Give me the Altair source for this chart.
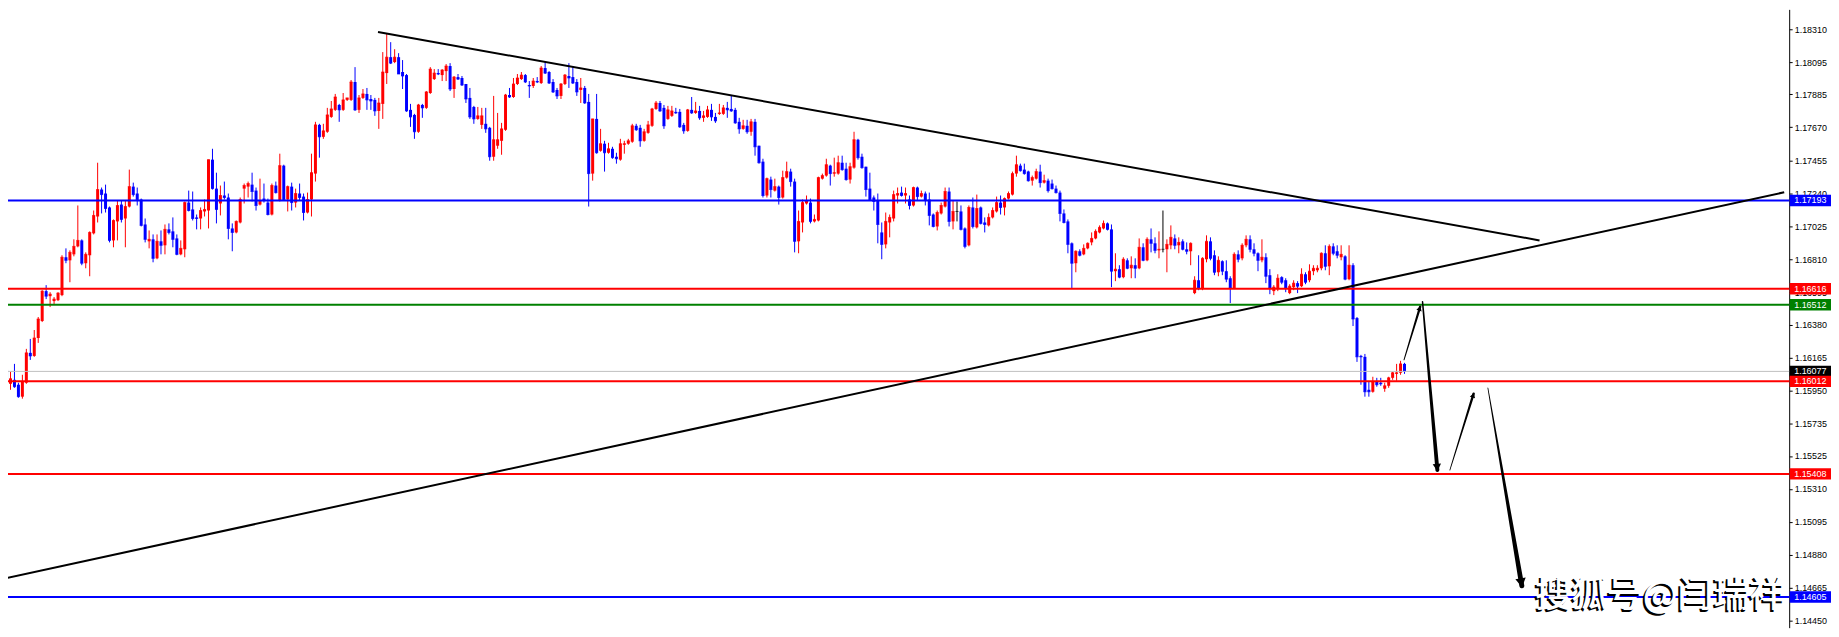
import math
import altair as alt
import pandas as pd

# ---------------- candle data (prices in points, 1 point = 0.00001) ----------------
POINT = 1e-5
O_PTS = [
116087,115996,116022,115990,115912,116003,116198,116178,116295,116406,116601,116568,116536,116542,116575,116822,116802,116841,116893,116932,
116783,116835,116978,117088,117264,117238,117147,116932,117056,117166,117075,117153,117283,117238,117199,117036,116926,116939,116815,116926,
116900,117004,116991,116945,116841,116874,117179,117134,117082,117075,117121,117127,117459,117270,117173,117225,117212,117010,116984,117049,
117270,117283,117296,117257,117166,117205,117179,117101,117290,117192,117420,117199,117283,117179,117238,117218,117114,117199,117368,117686,
117608,117641,117738,117784,117816,117784,117849,117849,117966,117784,117862,117888,117855,117849,117777,117823,118024,118128,118096,118128,
118031,118011,117784,117751,117641,117816,117797,117894,117985,118024,118011,118037,118070,117920,117998,117992,117953,117862,117803,117725,
117686,117693,117667,117478,117550,117582,117654,117881,117868,117953,117985,118011,117946,117940,117972,117959,118057,118031,117966,117914,
117875,117953,118005,117998,117966,117914,117927,117836,117368,117725,117517,117563,117504,117530,117478,117459,117556,117563,117576,117680,
117667,117582,117634,117680,117790,117829,117797,117725,117745,117771,117771,117686,117647,117784,117764,117777,117732,117738,117784,117738,
117758,117758,117797,117790,117784,117706,117660,117680,117641,117706,117550,117446,117225,117329,117257,117283,117212,117342,117381,117316,
116926,117049,117173,117179,117056,117062,117335,117355,117420,117368,117368,117439,117400,117329,117407,117589,117478,117413,117270,117212,
117192,116984,116906,117049,117075,117225,117244,117225,117199,117160,117277,117218,117238,117199,117101,117023,117108,117153,117251,117056,
117121,117121,117010,116900,117147,117017,117147,117049,117030,117082,117121,117179,117147,117205,117231,117368,117420,117394,117381,117322,
117335,117381,117309,117322,117303,117270,117244,117108,117056,116913,116783,116861,116841,116880,116919,116945,116984,117010,117043,117004,
116731,116744,116692,116802,116750,116770,116750,116887,116802,116939,116913,116867,116874,116874,116900,116945,116900,116926,116874,116861,
116588,116672,116620,116809,116926,116835,116724,116796,116731,116685,116620,116841,116815,116900,116939,116874,116848,116802,116822,116705,
116601,116614,116692,116672,116588,116627,116653,116633,116711,116672,116731,116737,116750,116848,116763,116893,116861,116822,116828,116679,
116770,116425,116178,116172,115957,115944,116009,116003,115964,115983,116035,116061,116068,116126]
H_PTS = [
116107,116074,116126,116003,116055,116224,116289,116347,116432,116607,116640,116594,116562,116594,116835,116880,116867,116939,117160,116939,
116854,116991,117127,117439,117277,117296,117153,117069,117192,117192,117192,117394,117309,117277,117205,117075,116997,116971,116971,116997,
117036,117043,117082,116971,116932,117186,117257,117251,117101,117147,117199,117459,117530,117374,117290,117316,117238,117043,117062,117212,
117303,117316,117374,117277,117335,117303,117205,117303,117316,117498,117426,117290,117309,117270,117303,117238,117244,117498,117706,117693,
117693,117797,117842,117888,117823,117894,117862,117979,118063,117881,117920,117927,117881,117862,117862,118161,118284,118226,118180,118154,
118109,118018,117823,117758,117823,117823,117907,118063,118050,118050,118050,118083,118089,118005,118018,118005,117953,117927,117810,117803,
117797,117797,117673,117875,117764,117699,117888,117927,117992,118018,118031,118018,117972,117992,117998,118070,118096,118037,117985,117927,
117959,118018,118089,118070,117985,117992,117940,117888,117725,117888,117660,117582,117569,117543,117504,117595,117582,117595,117693,117693,
117686,117660,117712,117797,117842,117842,117816,117810,117810,117797,117790,117699,117790,117868,117836,117810,117777,117810,117823,117764,
117823,117816,117836,117881,117797,117732,117719,117719,117725,117725,117550,117465,117342,117348,117335,117290,117387,117446,117400,117335,
117127,117199,117225,117205,117101,117348,117368,117465,117426,117472,117485,117485,117439,117439,117641,117595,117498,117413,117374,117225,
117238,117049,117114,117101,117257,117277,117283,117277,117225,117283,117283,117257,117251,117244,117108,117127,117179,117277,117277,117192,
117186,117160,117017,117160,117212,117231,117153,117082,117108,117147,117218,117225,117212,117251,117381,117485,117433,117433,117387,117355,
117400,117426,117361,117335,117329,117290,117257,117134,117069,116919,116867,116874,116906,116919,116984,117004,117030,117062,117049,117036,
116848,116770,116822,116815,116828,116815,116945,116913,116952,117010,116952,116991,117127,116939,117030,116971,116952,116939,116919,116919,
116698,116835,116822,116965,116952,116867,116828,116802,116802,116698,116854,116867,116913,116965,116965,116913,116854,116939,116848,116744,
116640,116711,116698,116685,116646,116672,116666,116750,116724,116776,116770,116770,116854,116900,116906,116913,116900,116900,116835,116900,
116783,116432,116185,116191,116009,116042,116035,116035,116003,116042,116074,116126,116146,116133]
L_PTS = [
115996,115957,115970,115905,115899,115996,116152,116172,116263,116399,116549,116497,116510,116536,116568,116783,116659,116828,116887,116770,
116750,116698,116971,117049,117108,117114,116919,116887,116932,117049,116887,117147,117218,117160,117023,116919,116880,116789,116809,116841,
116841,116971,116887,116835,116835,116822,117121,117062,117004,117004,117088,117010,117264,117043,117095,117199,116939,116861,116978,117043,
117173,117212,117186,117127,117160,117179,117095,117095,117238,117186,117192,117121,117127,117147,117192,117062,117108,117088,117316,117472,
117595,117634,117732,117777,117706,117777,117842,117842,117777,117764,117855,117784,117784,117745,117660,117725,117953,118083,118089,118018,
117920,117771,117673,117595,117634,117732,117790,117888,117979,118011,117972,117972,117907,117862,117979,117940,117829,117725,117693,117719,
117660,117634,117452,117452,117530,117491,117647,117862,117862,117946,117979,117959,117862,117927,117959,117953,118018,117953,117894,117855,
117855,117946,117927,117953,117875,117829,117823,117153,117322,117498,117511,117381,117498,117465,117433,117452,117498,117556,117569,117647,
117543,117576,117628,117673,117784,117771,117660,117719,117738,117758,117667,117628,117641,117758,117758,117719,117706,117732,117712,117699,
117751,117751,117732,117771,117693,117628,117654,117628,117615,117485,117433,117212,117212,117212,117251,117166,117205,117335,117283,116854,
116848,116984,117166,117043,117049,117056,117329,117348,117290,117348,117361,117387,117322,117303,117400,117459,117400,117218,117192,117127,
116913,116809,116880,116952,117056,117173,117218,117173,117134,117153,117192,117212,117160,117030,117017,116997,117101,117147,117023,117004,
117056,116997,116880,116893,117010,117010,117036,116984,117023,117075,117114,117101,117095,117199,117225,117348,117381,117361,117316,117290,
117329,117277,117303,117244,117264,117238,117056,117043,116848,116620,116724,116828,116835,116874,116900,116939,116978,117004,116997,116627,
116666,116685,116685,116744,116685,116685,116744,116796,116796,116854,116848,116815,116854,116724,116874,116874,116848,116867,116841,116770,
116581,116607,116607,116789,116802,116705,116698,116705,116659,116523,116614,116789,116802,116887,116854,116828,116731,116789,116653,116581,
116575,116601,116646,116594,116581,116607,116588,116627,116646,116659,116705,116724,116737,116737,116705,116835,116815,116802,116672,116672,
116373,116139,115990,115912,115912,115938,115977,115983,115944,115970,116022,116016,116055,116061]
C_PTS = [
116009,116029,115977,115912,116009,116198,116178,116295,116419,116601,116568,116581,116549,116588,116822,116802,116854,116893,116932,116783,
116841,116984,117095,117264,117231,117140,116932,117062,117160,117069,117153,117283,117231,117199,117030,116939,116939,116815,116926,116900,
117004,116984,116939,116841,116880,117179,117127,117075,117075,117127,117134,117459,117270,117134,117225,117212,117010,116984,117056,117199,
117290,117303,117251,117160,117192,117192,117101,117290,117244,117420,117199,117283,117179,117238,117212,117114,117199,117374,117686,117608,
117647,117751,117790,117868,117784,117849,117862,117966,117784,117862,117888,117849,117842,117777,117829,118031,118128,118089,118128,118018,
118005,117777,117738,117641,117816,117797,117901,118050,118024,118018,118044,118070,117920,117998,117985,117946,117855,117738,117725,117745,
117745,117660,117478,117589,117589,117660,117881,117868,117953,117992,118011,117966,117940,117972,117966,118057,118024,117959,117901,117875,
117953,118011,117992,117959,117901,117927,117829,117368,117725,117504,117563,117504,117530,117472,117465,117563,117563,117582,117680,117654,
117582,117641,117686,117790,117829,117777,117680,117784,117777,117764,117673,117647,117784,117764,117777,117732,117745,117784,117738,117712,
117764,117797,117784,117777,117699,117660,117680,117641,117706,117543,117439,117225,117335,117264,117283,117212,117342,117381,117316,116926,
117056,117179,117192,117056,117069,117342,117355,117426,117368,117374,117439,117394,117329,117413,117589,117472,117407,117264,117199,117186,
117036,116906,117056,117082,117231,117238,117225,117238,117160,117277,117218,117238,117192,117095,117023,117114,117160,117251,117056,117121,
117121,117004,116893,117147,117023,117140,117043,117036,117082,117127,117179,117147,117205,117238,117368,117426,117387,117368,117322,117342,
117381,117309,117322,117257,117270,117244,117108,117049,116906,116783,116861,116835,116880,116913,116945,116991,117017,117043,117004,116731,
116744,116692,116809,116750,116770,116750,116887,116802,116939,116913,116867,116874,116874,116906,116952,116900,116919,116874,116861,116913,
116672,116620,116815,116926,116815,116724,116802,116731,116679,116620,116841,116809,116900,116939,116874,116848,116802,116822,116698,116620,
116627,116685,116659,116620,116633,116653,116633,116711,116659,116731,116750,116750,116848,116763,116893,116848,116835,116841,116679,116770,
116419,116172,116172,115944,115944,116009,115990,115996,115983,116035,116068,116068,116126,116077]

# ---------------- horizontal levels (right-hand price tags) ----------------
LEVELS = [1.17193, 1.16616, 1.16512, 1.16077, 1.16012, 1.15408, 1.14605]
LEVEL_COLORS = ["#0000FF", "#FF0000", "#008000", "#C0C0C0", "#FF0000", "#FF0000", "#0000FF"]
LEVEL_WIDTHS = [2, 2, 2, 1, 2, 2, 2]
TAG_COLORS = ["#0000FF", "#FF0000", "#008000", "#000000", "#FF0000", "#FF0000", "#0000FF"]

TICKS = [1.18310, 1.18095, 1.17885, 1.17670, 1.17455, 1.17240, 1.17025, 1.16810, 1.16595,
         1.16380, 1.16165, 1.15950, 1.15735, 1.15525, 1.15310, 1.15095, 1.14880, 1.14665, 1.14450]

# ---------------- trend lines (bar index, price) ----------------
TREND_ID = ["down", "down", "up", "up"]
TREND_X = [93.8, 387.1, -0.375, 448.875]
TREND_P = [1.18292, 1.16932, 1.147265, 1.17246]

# ---------------- hand-drawn arrows ----------------
ARROW_ID = ["a1", "a2", "a3", "a4"]
ARROW_X0 = [352.875, 357.55, 364.45, 374.05]
ARROW_P0 = [1.161526, 1.165314, 1.154332, 1.159687]
ARROW_X1 = [356.95, 361.3, 370.45, 382.625]
ARROW_P1 = [1.164989, 1.154332, 1.159316, 1.146774]
ARROW_W0 = [1.0, 1.5, 0.8, 0.8]
ARROW_W1 = [2.5, 4.0, 2.5, 5.0]
HEAD_SIZE = [30, 70, 30, 110]

WATERMARK = "搜狐号@闫瑞祥"

# ---------------- layout ----------------
W, H = 1789, 621
X_DOMAIN = [1.625, 448.875]
Y_DOMAIN = [1.144045, 1.184400]
PX_X = W / (X_DOMAIN[1] - X_DOMAIN[0])
PX_Y = H / (Y_DOMAIN[1] - Y_DOMAIN[0])
UP, DOWN, FLAT = "#FF0000", "#0000FF", "#000000"
FONT = "Liberation Sans"

rows = []
for i, (o, h, l, c) in enumerate(zip(O_PTS, H_PTS, L_PTS, C_PTS)):
    col = UP if c > o else (DOWN if c < o else FLAT)
    rows.append({"i": i, "o": o * POINT, "h": max(h, o, c) * POINT,
                 "l": min(l, o, c) * POINT, "c": c * POINT, "col": col})
candles = pd.DataFrame(rows)

levels = pd.DataFrame({"p": LEVELS, "col": LEVEL_COLORS, "w": LEVEL_WIDTHS,
                       "tag": TAG_COLORS, "lab": [f"{v:.5f}" for v in LEVELS]})
trend = pd.DataFrame({"id": TREND_ID, "x": TREND_X, "p": TREND_P})

arrow_rows, head_rows = [], []
for k in range(len(ARROW_ID)):
    arrow_rows.append({"id": ARROW_ID[k], "seq": 0, "x": ARROW_X0[k], "p": ARROW_P0[k], "w": ARROW_W0[k]})
    arrow_rows.append({"id": ARROW_ID[k], "seq": 1, "x": ARROW_X1[k], "p": ARROW_P1[k], "w": ARROW_W1[k]})
    dx = (ARROW_X1[k] - ARROW_X0[k]) * PX_X
    dy = -(ARROW_P1[k] - ARROW_P0[k]) * PX_Y
    ln = math.hypot(dx, dy)
    ux, uy = dx / ln, dy / ln
    back = 0.3 * math.sqrt(HEAD_SIZE[k])
    ang = math.degrees(math.atan2(dx, -dy)) % 360
    head_rows.append({"x": ARROW_X1[k] - ux * back / PX_X,
                      "p": ARROW_P1[k] + uy * back / PX_Y,
                      "ang": ang, "s": HEAD_SIZE[k]})
arrows = pd.DataFrame(arrow_rows)
heads = pd.DataFrame(head_rows)

xs = alt.Scale(domain=X_DOMAIN, nice=False, zero=False)
ys = alt.Scale(domain=Y_DOMAIN, nice=False, zero=False)

y_axis = alt.Axis(orient="right", values=TICKS, format=".5f", title=None, grid=False,
                  domainColor="#000000", domainWidth=1, tickColor="#000000", tickSize=3,
                  labelPadding=2, labelFont=FONT, labelFontSize=9, labelColor="#000000",
                  labelOverlap=False, labelBound=False, labelFlush=False)


def Y(field):
    return alt.Y(field, scale=ys, axis=y_axis)


def X(field):
    return alt.X(field, scale=xs, axis=None)


base = alt.Chart(candles)
wicks = base.mark_rule(strokeWidth=1).encode(
    x=X("i:Q"), y=Y("l:Q"), y2="h:Q", color=alt.Color("col:N", scale=None))
bodies = base.mark_bar(size=3).encode(
    x=X("i:Q"), y=Y("o:Q"), y2="c:Q", color=alt.Color("col:N", scale=None))
closes = base.mark_tick(orient="horizontal", size=3, thickness=1).encode(
    x=X("i:Q"), y=Y("c:Q"), color=alt.Color("col:N", scale=None))

hlines = alt.Chart(levels).mark_rule().encode(
    y=Y("p:Q"),
    color=alt.Color("col:N", scale=None),
    strokeWidth=alt.StrokeWidth("w:Q", scale=None),
)

tlines = alt.Chart(trend).mark_line(color="#000000", strokeWidth=2, clip=True).encode(
    x=X("x:Q"), y=Y("p:Q"), detail="id:N")

trails = alt.Chart(arrows).mark_trail(color="#000000").encode(
    x=X("x:Q"), y=Y("p:Q"),
    size=alt.Size("w:Q", scale=None, legend=None),
    detail="id:N", order="seq:Q",
)
arrowheads = alt.Chart(heads).mark_point(shape="triangle-up", filled=True, color="#000000",
                                         opacity=1, strokeWidth=0).encode(
    x=X("x:Q"), y=Y("p:Q"),
    angle=alt.Angle("ang:Q", scale=None),
    size=alt.Size("s:Q", scale=None, legend=None),
)

TAG_W, TAG_H = 41.5, 11.5
tag_path = "M-1,{a}L1,{a}L1,{b}L-1,{b}Z".format(a=-TAG_H / TAG_W, b=TAG_H / TAG_W)
tags = alt.Chart(levels).mark_point(shape=tag_path, filled=True, opacity=1, strokeWidth=0,
                                    size=TAG_W * TAG_W).encode(
    x=alt.value(W + 0.5 + TAG_W / 2),
    y=Y("p:Q"),
    color=alt.Color("tag:N", scale=None),
)
tag_text = alt.Chart(levels).mark_text(align="left", baseline="middle", font=FONT,
                                       fontSize=9, color="#FFFFFF").encode(
    x=alt.value(W + 5), y=Y("p:Q"), text="lab:N")

wm = pd.DataFrame({"t": [WATERMARK]})
wm_font = "Noto Sans CJK SC"
wm_shadow = alt.Chart(wm).mark_text(align="left", baseline="middle", font=wm_font, fontSize=36,
                                    fontWeight=500, color="#000000", dx=-2, dy=2).encode(
    x=alt.value(1534), y=alt.value(589), text="t:N")
wm_text = alt.Chart(wm).mark_text(align="left", baseline="middle", font=wm_font, fontSize=36,
                                  fontWeight=500, color="#FFFFFF").encode(
    x=alt.value(1534), y=alt.value(589), text="t:N")

chart = alt.layer(
    wicks, bodies, closes, hlines, tlines, trails, arrowheads, tags, tag_text, wm_shadow, wm_text
).properties(
    width=W, height=H,
    autosize=alt.AutoSizeParams(type="none"),
    padding={"left": 0, "top": 0, "right": 42, "bottom": 0},
    background="#FFFFFF",
).configure_view(stroke=None)

chart.save("out.html", embed_options={"renderer": "svg", "actions": False})
